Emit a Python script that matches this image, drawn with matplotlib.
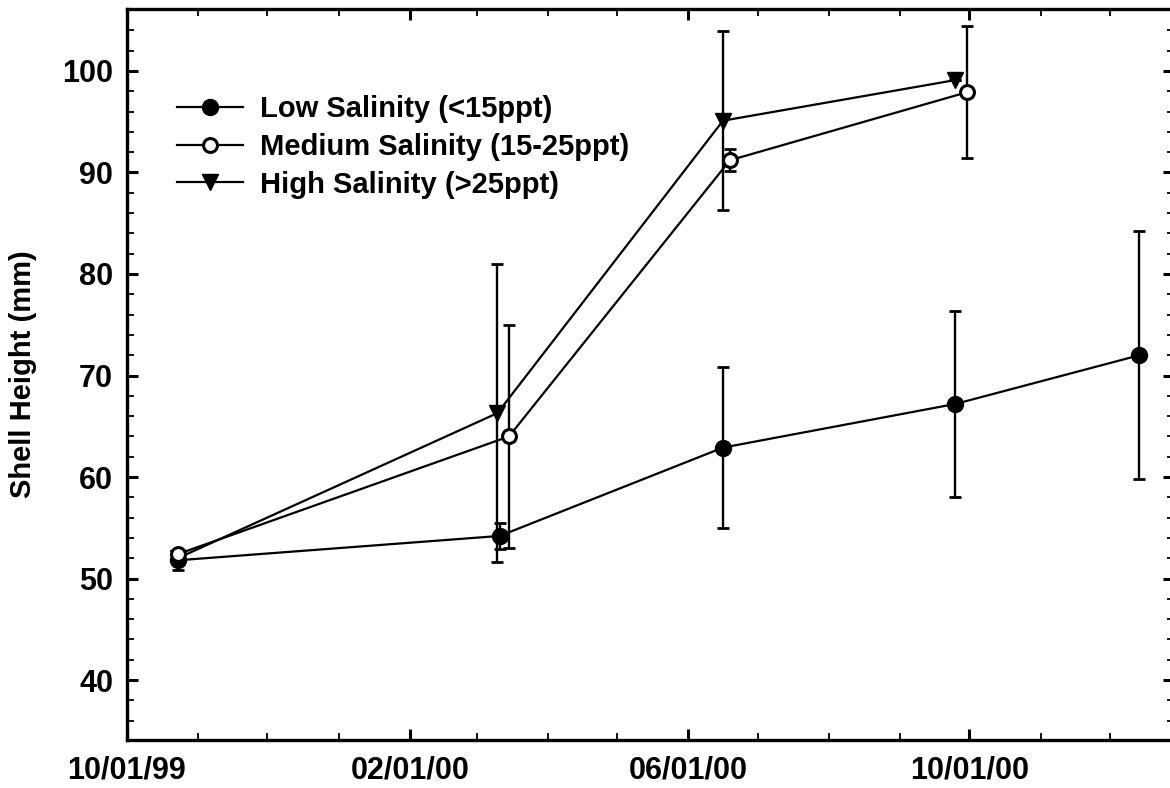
import numpy as np
import pandas as pd
import matplotlib

matplotlib.use("Agg")
from matplotlib import pyplot as plt
import matplotlib.dates as mdates

plt.rcParams['font.family'] = ['Liberation Sans', 'DejaVu Sans']
plt.rcParams['font.weight'] = 'bold'

# data
low_dates = pd.to_datetime(['1999-10-23', '2000-03-11', '2000-06-16', '2000-09-25', '2000-12-14'])
low_mean = [51.8, 54.2, 62.9, 67.2, 72.0]
low_err = [1.0, 1.3, 7.9, 9.2, 12.2]

med_dates = pd.to_datetime(['1999-10-23', '2000-03-15', '2000-06-19', '2000-09-30'])
med_mean = [52.4, 64.0, 91.2, 97.9]
med_err = [0.4, 11.0, 1.1, 6.5]

high_dates = pd.to_datetime(['1999-10-23', '2000-03-10', '2000-06-16', '2000-09-25'])
high_mean = [52.0, 66.3, 95.1, 99.1]
high_err = [0.0, 14.7, 8.8, 0.0]

labels = ['Low Salinity (<15ppt)', 'Medium Salinity (15-25ppt)', 'High Salinity (>25ppt)']

fig = plt.figure(figsize=(11.7, 7.88), dpi=100)
ax = fig.add_axes([127 / 1170, 1 - 740 / 788, 1047 / 1170, 731 / 788])

# error bars first, then lines + markers on top
for d, m, e in [(low_dates, low_mean, low_err), (med_dates, med_mean, med_err), (high_dates, high_mean, high_err)]:
    ax.errorbar(d, m, yerr=e, fmt='none', ecolor='black', elinewidth=1.7, capsize=4.5, capthick=2.0, zorder=2)

ax.plot(low_dates, low_mean, color='black', lw=1.6, marker='o', ms=11.5,
        mfc='black', mec='black', label=labels[0], zorder=4)
ax.plot(med_dates, med_mean, color='black', lw=1.6, marker='o', ms=10,
        mfc='white', mec='black', mew=2.2, label=labels[1], zorder=4)
ax.plot(high_dates, high_mean, color='black', lw=1.6, marker='v', ms=12,
        mfc='black', mec='black', label=labels[2], zorder=3)

ax.set_xlim(pd.Timestamp('1999-10-01'), pd.Timestamp('2000-12-29'))
ax.set_ylim(34.1, 106.1)

ax.xaxis.set_major_locator(mdates.MonthLocator(bymonth=[2, 6, 10]))
ax.xaxis.set_minor_locator(mdates.MonthLocator())
ax.xaxis.set_major_formatter(mdates.DateFormatter('%m/%d/%y'))
ax.set_yticks(np.arange(40, 101, 10))
ax.set_yticks(np.arange(36, 106, 2), minor=True)

ax.tick_params(which='both', direction='in', top=True, right=True, labelsize=22)
ax.tick_params(which='major', length=8, width=2.2)
ax.tick_params(which='minor', length=5, width=1.3)
ax.tick_params(axis='x', which='major', pad=11)
ax.tick_params(axis='y', which='major', pad=10)
for s in ax.spines.values():
    s.set_linewidth(2.4)

ax.set_ylabel('Shell Height (mm)', fontsize=21, fontweight='bold', labelpad=18)

leg = ax.legend(loc='upper left', bbox_to_anchor=(0.048, 0.882), frameon=False,
                fontsize=21, handlelength=2.26, handletextpad=0.58, labelspacing=0.33,
                borderpad=0, borderaxespad=0)

fig.savefig('out.png', dpi=100)
